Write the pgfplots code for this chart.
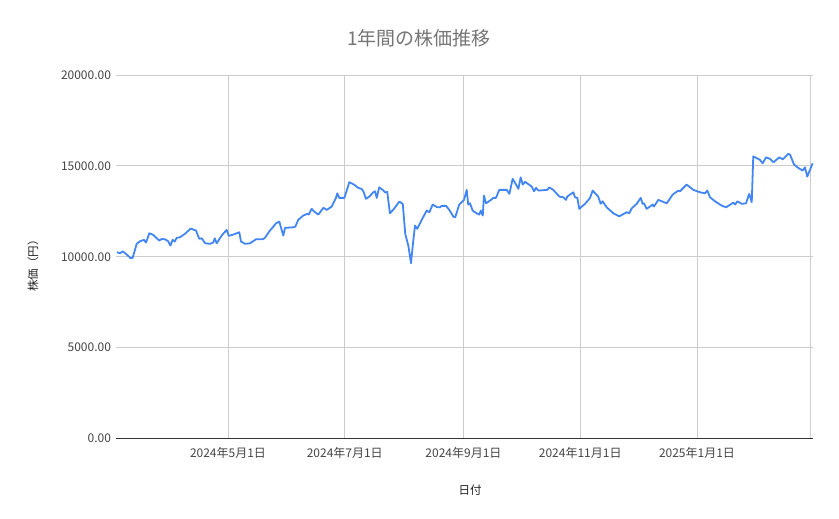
\documentclass[border=0pt]{standalone}
\usepackage{fontspec}
\setmainfont{Noto Sans CJK JP}
\usepackage{pgfplots}
\usepackage{pgfplotstable}
\pgfplotsset{compat=1.18}
\definecolor{gblue}{RGB}{66,133,244}
\definecolor{gridc}{RGB}{204,204,204}
\definecolor{ticklbl}{RGB}{68,68,68}
\definecolor{titlec}{RGB}{117,117,117}
\definecolor{axlbl}{RGB}{34,34,34}
\pgfplotstableread{
day price
63 10250
64.6 10190
66.0 10300
67.7 10160
70.2 9915
71.2 9940
73.3 10710
75.0 10850
77.1 10930
78.2 10780
79.9 11290
81.7 11220
85.1 10890
86.4 10980
88.1 10960
89.8 10850
90.9 10615
92.1 10930
93.2 10835
94.2 11040
95.9 11070
98.5 11260
101.5 11550
104.3 11440
106.0 10985
107.3 11015
109.1 10740
111.6 10710
113.3 10780
114.1 11015
115.1 10740
117.7 11165
120.3 11480
121.4 11150
123.8 11220
126.9 11345
127.8 10835
129.9 10710
132.5 10740
135.6 10960
139.1 10960
140.3 11040
142.6 11400
144.4 11620
146.1 11840
147.8 11935
149.9 11165
150.8 11590
155.1 11620
156.2 11660
157.7 12030
160.3 12265
162.4 12360
163.2 12320
164.7 12635
165.9 12500
168.2 12320
170.8 12690
172.6 12580
175.2 12760
177.4 13240
178.1 13490
179.1 13240
181.8 13240
184.4 14100
186.8 13970
189.1 13790
190.8 13730
191.7 13600
193.1 13185
194.8 13310
196.9 13545
197.8 13600
198.7 13240
200.0 13820
201.8 13680
203.2 13530
204.2 13570
205.6 12390
207.7 12635
210.5 13035
212.3 12910
213.6 11260
215.2 10615
216.6 9650
217.8 10890
218.7 11715
219.9 11535
222.2 12030
224.8 12540
226.2 12450
227.9 12870
230.3 12720
231.7 12720
232.6 12800
234.9 12800
236.6 12580
238.7 12210
239.7 12170
241.8 12870
244.3 13130
245.7 13680
246.5 12870
247.4 12940
248.8 12540
250.9 12390
252.3 12320
253.0 12540
254.1 12265
254.7 13365
255.8 12940
257.9 13090
259.6 13240
261.0 13240
262.7 13680
266.6 13680
268.0 13460
269.7 14285
271.5 13970
272.7 13735
273.9 14370
275.0 13970
276.2 14120
279.7 13860
280.9 13600
281.9 13790
283.1 13640
287.8 13680
288.8 13820
290.9 13680
294.1 13310
296.2 13270
297.6 13130
298.2 13310
301.4 13545
302.3 13270
303.5 13240
304.5 12635
307.5 12910
310.1 13230
311.5 13640
314.4 13310
315.7 12910
316.7 13050
318.8 12720
322.3 12390
325.4 12225
329.3 12450
330.6 12390
331.9 12665
334.5 12910
336.6 13240
337.6 12910
338.3 12940
339.7 12635
342.9 12870
343.5 12760
345.8 13130
350.2 12940
353.3 13420
356.2 13640
357.1 13600
360.6 13970
364.1 13680
367.6 13545
370.2 13490
371.4 13640
372.8 13270
375.4 13050
378.9 12815
381.2 12720
385.0 12980
386.0 12870
387.1 13050
389.4 12910
391.6 12940
393.3 13460
394.6 13000
395.4 15525
398.9 15330
400.3 15140
402.1 15470
404.1 15385
405.9 15195
409.0 15470
410.8 15360
413.7 15660
414.6 15620
416.7 15070
418.9 14890
421.2 14740
422.4 14920
423.6 14410
426.4 15140
}\pricedata
\begin{document}
\begin{tikzpicture}
\path[use as bounding box] (0,0) rectangle (839pt,519pt);
\begin{axis}[
  at={(116pt,80.5pt)}, anchor=south west,
  scale only axis, width=697pt, height=363.5pt,
  xmin=62.5, xmax=426.6, ymin=0, ymax=20000,
  enlargelimits=false,
  axis line style={draw=none},
  major tick length=0pt,
  xtick={121,182,244,305,366,425},
  xticklabels={2024年5月1日,2024年7月1日,2024年9月1日,2024年11月1日,2025年1月1日,{}},
  ytick={0,5000,10000,15000,20000},
  grid=major,
  major grid style={draw=gridc, line width=0.8pt},
  scaled y ticks=false,
  /pgf/number format/fixed,
  /pgf/number format/fixed zerofill,
  /pgf/number format/precision=2,
  /pgf/number format/set thousands separator={},
  /pgf/number format/assume math mode=true,
  ticklabel style={font=\fontsize{12}{14}\selectfont, text=ticklbl},
  yticklabel style={anchor=east, xshift=-1.5pt},
  xticklabel style={anchor=center, yshift=-14pt},
  clip=false,
]
\draw[color=black!80, line width=0.9pt] (axis cs:62.5,0) -- (axis cs:426.6,0);
\addplot[color=gblue, line width=1.8pt, line join=round, mark=none] table[x=day,y=price] {\pricedata};
\end{axis}
\node[text=titlec, font=\fontsize{19}{22}\selectfont] at (419pt,480.5pt) {1年間の株価推移};
\node[text=axlbl, font=\fontsize{11.5}{13}\selectfont] at (470pt,29pt) {日付};
\node[text=axlbl, font=\fontsize{11.5}{13}\selectfont, rotate=90] at (33pt,256pt) {株価（円）};
\end{tikzpicture}
\end{document}
